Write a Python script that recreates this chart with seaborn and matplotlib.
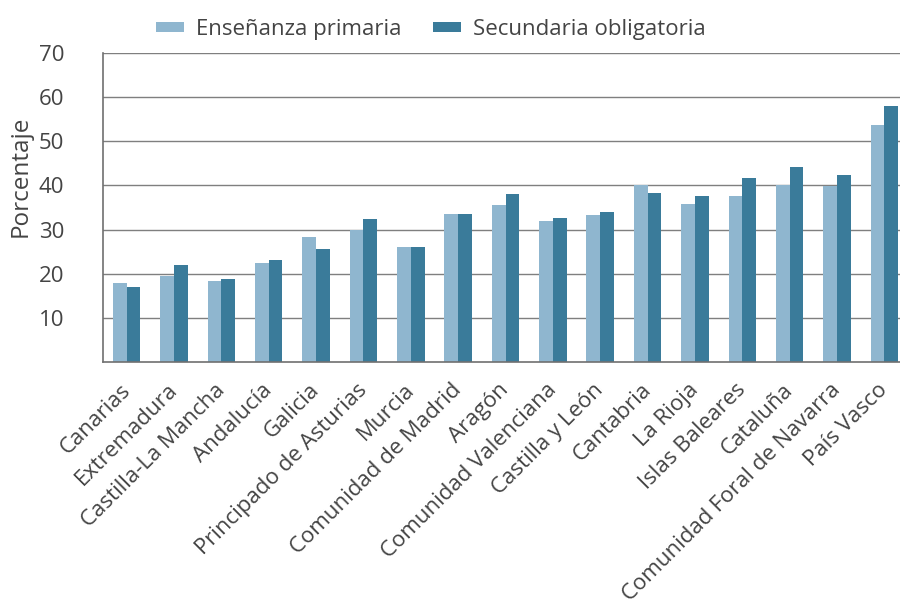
import matplotlib
matplotlib.use("Agg")
import matplotlib.pyplot as plt
import matplotlib.transforms as mtransforms
import seaborn as sns
import pandas as pd
from matplotlib.patches import Patch

regiones = [
    "Canarias", "Extremadura", "Castilla-La Mancha", "Andalucía", "Galicia",
    "Principado de Asturias", "Murcia", "Comunidad de Madrid", "Aragón",
    "Comunidad Valenciana", "Castilla y León", "Cantabria", "La Rioja",
    "Islas Baleares", "Cataluña", "Comunidad Foral de Navarra", "País Vasco",
]
primaria = [18.0, 19.5, 18.4, 22.5, 28.4, 30.0, 26.1, 33.6, 35.5,
            32.0, 33.4, 40.2, 35.7, 37.5, 40.2, 39.8, 53.6]
secundaria = [17.0, 22.0, 18.9, 23.2, 25.7, 32.3, 26.1, 33.6, 38.0,
              32.7, 33.9, 38.2, 37.5, 41.6, 44.1, 42.3, 58.0]
series = ["Enseñanza primaria", "Secundaria obligatoria"]
colores = ["#8fb6cf", "#3a7b9a"]

df = pd.DataFrame({
    "region": regiones * 2,
    "nivel": [series[0]] * len(regiones) + [series[1]] * len(regiones),
    "valor": primaria + secundaria,
})

sns.set_theme(style="white")
plt.rcParams["font.family"] = ["Open Sans", "DejaVu Sans"]
texto = "#444444"

fig = plt.figure(figsize=(9.0, 6.09), dpi=100)
ax = fig.add_axes([103 / 900, 1 - 362 / 609, 805 / 900, 309 / 609])

sns.barplot(data=df, x="region", y="valor", hue="nivel", palette=colores,
            width=0.58, gap=0.0, ax=ax, legend=False, saturation=1)
for p in ax.patches:
    p.set_linewidth(0)

ax.set_ylim(0, 70)
ax.set_xlim(-0.5, len(regiones) - 0.5)
ax.set_yticks([10, 20, 30, 40, 50, 60, 70])
ax.yaxis.grid(True, color="#7f7f7f", linewidth=1.0)
ax.set_axisbelow(True)
for s in ["top", "right"]:
    ax.spines[s].set_visible(False)
for s in ["left", "bottom"]:
    ax.spines[s].set_color("#707070")
    ax.spines[s].set_linewidth(1.2)

ax.tick_params(axis="y", length=0, labelsize=16, labelcolor=texto, pad=28)
ax.tick_params(axis="x", length=0, labelsize=16, labelcolor=texto, pad=4)
ax.set_xticks(range(len(regiones)))
ax.set_xticklabels(regiones, rotation=45, ha="right", rotation_mode="anchor")
shift = mtransforms.ScaledTranslation(-7 / 100, -12 / 100, fig.dpi_scale_trans)
for lab in ax.get_xticklabels():
    lab.set_transform(lab.get_transform() + shift)
ax.set_xlabel("")
ax.set_ylabel("Porcentaje", fontsize=17.5, color=texto)
ax.yaxis.set_label_coords(-0.087, 0.60)

handles = [Patch(facecolor=c, edgecolor="none") for c in colores]
fig.legend(handles, series, loc="upper left", bbox_to_anchor=(0.156, 0.994),
           ncol=2, frameon=False, fontsize=16, labelcolor=texto,
           handlelength=1.26, handleheight=0.3, handletextpad=0.54,
           columnspacing=1.44, borderaxespad=0.3)

fig.savefig("out.png", dpi=100)
